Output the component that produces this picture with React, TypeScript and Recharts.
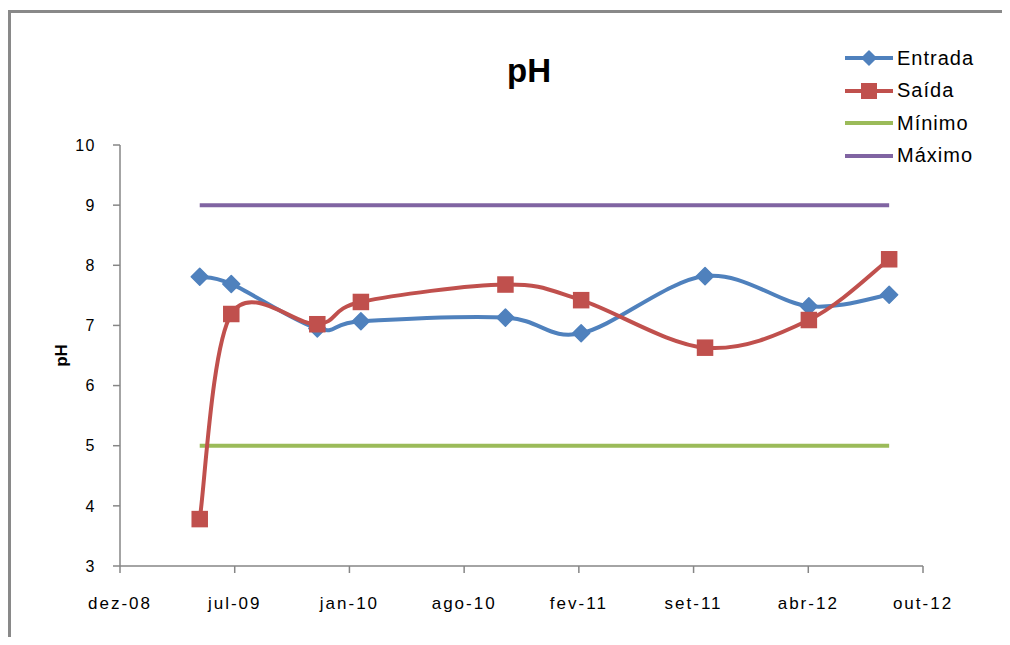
import React from 'react';
import { LineChart, Line, XAxis, YAxis, Legend } from 'recharts';

// sample dates (Excel serial days) and pH values
const dates = [39939, 39994, 40144, 40220, 40472, 40604, 40820, 41001, 41141];
const entrada = [7.81, 7.69, 6.95, 7.07, 7.13, 6.87, 7.82, 7.32, 7.51];
const saida = [3.78, 7.19, 7.02, 7.39, 7.68, 7.42, 6.63, 7.09, 8.1];
const minimo = [5, 5, 5, 5, 5, 5, 5, 5, 5];
const maximo = [9, 9, 9, 9, 9, 9, 9, 9, 9];

const xTicks = [39800, 40000, 40200, 40400, 40600, 40800, 41000, 41200];
const xLabels = ['dez-08', 'jul-09', 'jan-10', 'ago-10', 'fev-11', 'set-11', 'abr-12', 'out-12'];
const yTicks = [3, 4, 5, 6, 7, 8, 9, 10];

const BLUE = '#4F81BD';
const RED = '#C0504D';
const GREEN = '#9BBB59';
const PURPLE = '#8064A2';
const AXIS = '#868686';
const FONT = '"Liberation Sans", Arial, sans-serif';

const data = dates.map((d, i) => ({
  date: d,
  entrada: entrada[i],
  saida: saida[i],
  minimo: minimo[i],
  maximo: maximo[i],
}));

// Excel-like smoothed line (Catmull-Rom as cubic bezier)
const excelSmooth = (context: any) => {
  let pts: number[][] = [];
  return {
    areaStart() {},
    areaEnd() {},
    lineStart() {
      pts = [];
    },
    point(x: number, y: number) {
      pts.push([+x, +y]);
    },
    lineEnd() {
      const n = pts.length;
      if (!n) return;
      context.moveTo(pts[0][0], pts[0][1]);
      for (let i = 0; i < n - 1; i++) {
        const p0 = pts[Math.max(i - 1, 0)];
        const p1 = pts[i];
        const p2 = pts[i + 1];
        const p3 = pts[Math.min(i + 2, n - 1)];
        context.bezierCurveTo(
          p1[0] + (p2[0] - p0[0]) / 6,
          p1[1] + (p2[1] - p0[1]) / 6,
          p2[0] - (p3[0] - p1[0]) / 6,
          p2[1] - (p3[1] - p1[1]) / 6,
          p2[0],
          p2[1]
        );
      }
    },
  };
};

const diamond = (cx: number, cy: number, r: number, key?: any) => (
  <polygon
    key={key}
    points={`${cx},${cy - r} ${cx + r},${cy} ${cx},${cy + r} ${cx - r},${cy}`}
    fill={BLUE}
    stroke={BLUE}
    strokeWidth={1.5}
    strokeLinejoin="round"
  />
);

const square = (cx: number, cy: number, s: number, key?: any) => (
  <rect key={key} x={cx - s / 2} y={cy - s / 2} width={s} height={s} fill={RED} />
);

const renderDiamond = (p: any) =>
  p.cx == null || p.cy == null ? <g key={p.index} /> : diamond(p.cx, p.cy, 8.5, p.index);
const renderSquare = (p: any) =>
  p.cx == null || p.cy == null ? <g key={p.index} /> : square(p.cx, p.cy, 16.5, p.index);

const legendItems = [
  { name: 'Entrada', color: BLUE, marker: 'diamond' },
  { name: 'Saída', color: RED, marker: 'square' },
  { name: 'Mínimo', color: GREEN, marker: '' },
  { name: 'Máximo', color: PURPLE, marker: '' },
];

const LegendBox = () => (
  <div style={{ fontFamily: FONT }}>
    {legendItems.map((it) => (
      <div key={it.name} style={{ display: 'flex', alignItems: 'center', height: 32.5 }}>
        <svg width={52} height={20} style={{ display: 'block' }}>
          <line x1={0} y1={10} x2={48} y2={10} stroke={it.color} strokeWidth={4} />
          {it.marker === 'diamond' && diamond(24, 10, 7)}
          {it.marker === 'square' && square(24, 10, 16)}
        </svg>
        <span style={{ fontSize: 20, letterSpacing: 1, color: '#000' }}>{it.name}</span>
      </div>
    ))}
  </div>
);

const YLabel = (props: any) => {
  const vb = props.viewBox || {};
  const x = vb.x + 7;
  const y = vb.y + vb.height / 2;
  return (
    <text
      x={x}
      y={y}
      transform={`rotate(-90 ${x} ${y})`}
      textAnchor="middle"
      fontFamily={FONT}
      fontWeight="bold"
      fontSize={17}
      fill="#000"
    >
      pH
    </text>
  );
};

export default function App() {
  const xTick = { fill: '#000', fontSize: 17, fontFamily: FONT, letterSpacing: 2 };
  const yTick = { fill: '#000', fontSize: 16, fontFamily: FONT, letterSpacing: 1.5 };
  return (
    <div style={{ position: 'relative', width: 994, height: 629, overflow: 'hidden' }}>
      <div
        style={{
          position: 'absolute',
          left: 0,
          top: 2,
          width: 994,
          height: 627,
          borderTop: '3px solid #898989',
          borderLeft: '3px solid #898989',
          boxSizing: 'border-box',
        }}
      />
      <div
        style={{
          position: 'absolute',
          left: 421,
          top: 46,
          width: 200,
          textAlign: 'center',
          fontFamily: FONT,
          fontWeight: 'bold',
          fontSize: 33,
          lineHeight: '33px',
          color: '#000',
        }}
      >
        pH
      </div>
      <LineChart
        width={994}
        height={629}
        data={data}
        margin={{ top: 137, right: 79, bottom: 21, left: 52 }}
        style={{ position: 'absolute', left: 0, top: 0 }}
      >
        <XAxis
          dataKey="date"
          type="number"
          domain={[39800, 41200]}
          ticks={xTicks}
          tickFormatter={(v: number) => xLabels[xTicks.indexOf(v)]}
          height={50}
          stroke={AXIS}
          strokeWidth={1.5}
          tickSize={7}
          tickMargin={24}
          tick={xTick}
          interval={0}
        />
        <YAxis
          domain={[3, 10]}
          ticks={yTicks}
          width={60}
          stroke={AXIS}
          strokeWidth={1.5}
          tickSize={7}
          tickMargin={17}
          tick={yTick}
          interval={0}
          label={<YLabel />}
        />
        <Legend
          layout="vertical"
          verticalAlign="middle"
          align="center"
          content={<LegendBox />}
          wrapperStyle={{ position: 'absolute', left: 837, top: 34, width: 150 }}
        />
        <Line
          dataKey="maximo"
          name="Máximo"
          stroke={PURPLE}
          strokeWidth={4}
          dot={false}
          activeDot={false}
          type="linear"
          isAnimationActive={false}
        />
        <Line
          dataKey="minimo"
          name="Mínimo"
          stroke={GREEN}
          strokeWidth={4}
          dot={false}
          activeDot={false}
          type="linear"
          isAnimationActive={false}
        />
        <Line
          dataKey="entrada"
          name="Entrada"
          stroke={BLUE}
          strokeWidth={4}
          type={excelSmooth as any}
          dot={renderDiamond}
          activeDot={false}
          isAnimationActive={false}
        />
        <Line
          dataKey="saida"
          name="Saída"
          stroke={RED}
          strokeWidth={4}
          type={excelSmooth as any}
          dot={renderSquare}
          activeDot={false}
          isAnimationActive={false}
        />
      </LineChart>
    </div>
  );
}
